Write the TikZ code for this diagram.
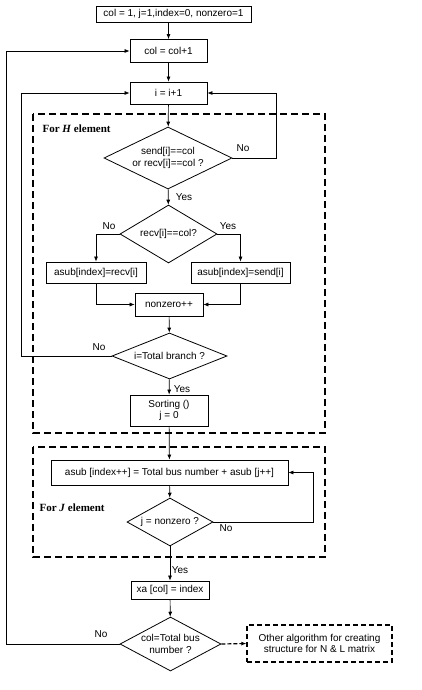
\documentclass[tikz,border=0pt]{standalone}
\usepackage{fontspec}
\setmainfont{Liberation Sans}
\newfontfamily\regionfont{Liberation Serif}
\usetikzlibrary{shapes.geometric, arrows.meta}

\begin{document}
\begin{tikzpicture}[x=1pt, y=-1pt, >={Latex[length=5pt, width=4pt]},
    font=\fontsize{10}{11.5}\selectfont,
    box/.style={draw, line width=0.8pt, inner sep=1pt, align=center},
    decision/.style={draw, diamond, line width=0.8pt, inner sep=0pt, align=center},
    flow/.style={->, line width=0.7pt},
    region/.style={line width=1.6pt, dash pattern=on 7pt off 4pt},
    regionlabel/.style={anchor=west, font=\regionfont\bfseries\fontsize{11}{12}\selectfont},
    lbl/.style={inner sep=1pt}]
    \useasboundingbox (0,0) rectangle (422,690);

    % 1. Khoi khoi tao va vong lap col, i
    \node[box, minimum width=155pt, minimum height=16pt] (init) at (173.5,14) {col = 1, j=1,index=0, nonzero=1};
    \node[box, minimum width=77pt, minimum height=23pt] (col) at (168.5,51) {col = col+1};
    \node[box, minimum width=77pt, minimum height=22pt] (inc) at (168.5,93) {i = i+1};

    % 2. Vung For H element
    \draw[region] (33,114) rectangle (325,433);
    \node[regionlabel] (hlabel) at (39,129) {For \textit{H} element};
    \node[decision, aspect=2.05, minimum width=128pt, minimum height=62pt] (test) at (168,158) {send[i]==col\\or recv[i]==col ?};
    \node[decision, aspect=1.7, minimum width=97pt, minimum height=58pt] (recv) at (168.5,234) {recv[i]==col?};
    \node[box, minimum width=100pt, minimum height=21pt] (lbox) at (96,272.5) {asub[index]=recv[i]};
    \node[box, minimum width=99pt, minimum height=21pt] (rbox) at (240.5,272.5) {asub[index]=send[i]};
    \node[box, minimum width=68pt, minimum height=23pt] (nz) at (169,304.5) {nonzero++};
    \node[decision, aspect=2.5, minimum width=115pt, minimum height=46pt] (branch) at (169.5,356) {i=Total branch ?};
    \node[box, minimum width=78pt, minimum height=31pt] (sort) at (169,410.5) {Sorting ()\\j = 0};

    % 3. Vung For J element
    \draw[region] (33,447) rectangle (325,557);
    \node[regionlabel] (jlabel) at (36,508) {For \textit{J} element};
    \node[box, minimum width=237pt, minimum height=25pt] (asub) at (169.5,472.5) {asub [index++] = Total bus number + asub [j++]};
    \node[decision, aspect=1.8, minimum width=86pt, minimum height=48pt] (jtest) at (170,522) {j = nonzero ?};

    % 4. Ket thuc
    \node[box, minimum width=78pt, minimum height=18pt] (xa) at (170,590) {xa [col] = index};
    \node[decision, aspect=1.87, minimum width=101pt, minimum height=54pt] (bus) at (170.5,644) {col=Total bus\\number ?};
    \node[box, line width=1.2pt, dash pattern=on 5pt off 3pt, minimum width=145pt, minimum height=37pt] (other) at (319.5,643.5) {Other algorithm for creating\\structure for N \& L matrix};

    % 5. Cac mui ten
    \draw[flow] (col.north |- init.south) -- (col.north);
    \draw[flow] (col) -- (inc);
    \draw[flow] (inc) -- (test);
    \draw[flow] (test.east) -- ++(44,0) |- (inc.east);
    \draw[flow] (test) -- (recv);
    \draw[flow] (recv.west) -| (lbox.north);
    \draw[flow] (recv.east) -| (rbox.north);
    \draw[flow, line width=0.5pt] (lbox.south) |- (nz.west);
    \draw[flow, line width=0.5pt] (rbox.south) |- (nz.east);
    \draw[flow] (nz) -- (branch);
    \draw[flow] (branch.west) -- ++(-90,0) |- (inc.west);
    \draw[flow] (branch) -- (sort);
    \draw[flow] (sort) -- (asub);
    \draw[flow] (asub) -- (jtest);
    \draw[flow] (jtest.east) -- ++(100,0) |- (asub.east);
    \draw[flow] (jtest) -- (xa);
    \draw[flow] (xa) -- (bus);
    \draw[flow] (bus.west) -- ++(-113,0) |- (col.west);
    \draw[flow, line width=1.2pt, dash pattern=on 4pt off 2pt] (bus.east) -- (other.west);

    % 6. Nhan Yes / No
    \node[lbl] (notest) at (243,148) {No};
    \node[lbl] (yestest) at (184,197) {Yes};
    \node[lbl] (norecv) at (109,226) {No};
    \node[lbl] (yesrecv) at (228,226) {Yes};
    \node[lbl] (nobranch) at (99,347) {No};
    \node[lbl] (yesbranch) at (182,389) {Yes};
    \node[lbl] (nojtest) at (226,528) {No};
    \node[lbl] (yesjtest) at (180,570) {Yes};
    \node[lbl] (nobus) at (101,634) {No};
\end{tikzpicture}
\end{document}
